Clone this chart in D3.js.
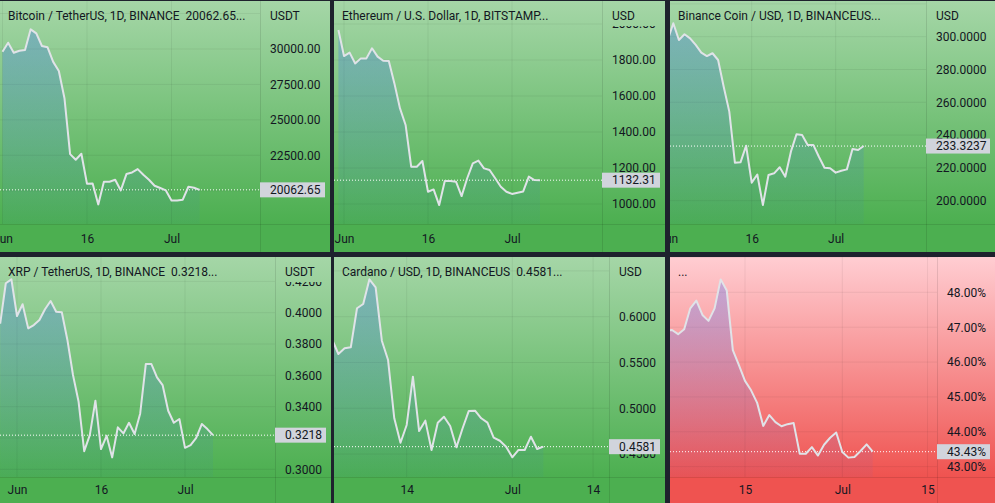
<!DOCTYPE html>
<html>
<head>
<meta charset="utf-8">
<script src="https://cdnjs.cloudflare.com/ajax/libs/d3/7.8.5/d3.min.js"></script>
<style>
  body { margin: 0; background: #1e222d; }
  svg { display: block; font-family: Roboto, "Noto Sans", sans-serif; }
</style>
</head>
<body>
<svg id="chart" width="995" height="503"></svg>
<script>
// daily closes (Jun - Jul 2022)
var btcStart = '2022-06-01'
var btcValues = [29810, 30444, 29740, 29880, 29930, 31387, 31106, 30211, 30117, 29091,
  28451, 26528, 22585, 22183, 22606, 20493, 20515, 19036, 20634, 20634,
  20775, 20021, 21176, 21289, 21527, 21127, 20775, 20352, 20190, 20021,
  19317, 19317, 19366, 20282, 20211, 20062.65]
var btcTicks = [20000, 22500, 25000, 27500, 30000, 32500]

var ethStart = '2022-05-31'
var ethValues = [1967, 1822, 1841, 1781, 1809, 1809, 1865, 1819, 1796, 1794, 1670,
  1531, 1439, 1207, 1207, 1239, 1068, 1081, 994, 1128, 1128,
  1124, 1044, 1143, 1226, 1241, 1198, 1189, 1143, 1096, 1068,
  1056, 1063, 1070, 1152, 1133, 1132.31]
var ethTicks = [1000, 1200, 1400, 1600, 1800, 2000]

var bnbStart = '2022-06-01'
var bnbValues = [298, 308.2, 298, 301.5, 299, 295, 290.3, 288.2, 289.9, 285.8,
  269.5, 254.3, 223.2, 223.4, 233.5, 211, 216, 197.4, 215.7, 216.7,
  220.4, 214.6, 229.9, 240.5, 240.1, 234, 234, 226.8, 220.1, 219.8,
  217.1, 218.3, 219.1, 231.5, 230.9, 233.3237]
var bnbTicks = [200, 220, 240, 260, 280, 300, 320]

var xrpStart = '2022-05-29'
var xrpValues = [0.393, 0.4188, 0.4213,
  0.3979, 0.4054, 0.3900, 0.3921, 0.3953, 0.4022, 0.4075, 0.4006, 0.4003, 0.3826,
  0.3602, 0.3431, 0.3116, 0.3218, 0.3438, 0.3129, 0.3214, 0.3076, 0.3268, 0.3229,
  0.3297, 0.3225, 0.3357, 0.3672, 0.3672, 0.3587, 0.3538, 0.3374, 0.3297, 0.3321,
  0.3137, 0.3155, 0.3201, 0.3289, 0.3257, 0.3218]
var xrpTicks = [0.30, 0.32, 0.34, 0.36, 0.38, 0.40, 0.42]

var adaStart = '2022-06-02'
var adaValues = [0.575, 0.5593, 0.5655, 0.5666, 0.6092, 0.6139, 0.6408, 0.6321, 0.5738,
  0.5527, 0.4891, 0.4624, 0.4818, 0.5345, 0.4752, 0.4865, 0.4545, 0.4843, 0.4908,
  0.4807, 0.4574, 0.4782, 0.4971, 0.4974, 0.4891, 0.4843, 0.4679, 0.4646, 0.4581,
  0.4465, 0.4545, 0.4545, 0.4690, 0.4556, 0.4581]
var adaTicks = [0.45, 0.50, 0.55, 0.60, 0.65]

var domStart = '2022-06-02'
var domValues = [46.9, 46.92, 46.80, 46.94, 47.54, 47.76, 47.35, 47.18, 47.54,
  48.37, 48.05, 46.34, 45.91, 45.46, 45.19, 44.83, 44.17, 44.48, 44.28,
  44.16, 44.22, 44.25, 43.37, 43.37, 43.56, 43.32, 43.63, 43.83, 43.98,
  43.42, 43.26, 43.28, 43.45, 43.64, 43.43]
var domTicks = [43, 44, 45, 46, 47, 48, 49]

var monthTicks = ['2022-06-01', '2022-06-16', '2022-07-01']
var adaDateTicks = ['2022-06-14', '2022-07-01', '2022-07-14']
var domDateTicks = ['2022-06-15', '2022-07-01', '2022-07-15']

var panels = [
  {title: 'Bitcoin / TetherUS, 1D, BINANCE  20062.65...', currency: 'USDT', start: btcStart, values: btcValues, ticks: btcTicks, dates: monthTicks, digits: 2, suffix: '', theme: 'green'},
  {title: 'Ethereum / U.S. Dollar, 1D, BITSTAMP...', currency: 'USD', start: ethStart, values: ethValues, ticks: ethTicks, dates: monthTicks, digits: 2, suffix: '', theme: 'green'},
  {title: 'Binance Coin / USD, 1D, BINANCEUS...', currency: 'USD', start: bnbStart, values: bnbValues, ticks: bnbTicks, dates: monthTicks, digits: 4, suffix: '', theme: 'green'},
  {title: 'XRP / TetherUS, 1D, BINANCE  0.3218...', currency: 'USDT', start: xrpStart, values: xrpValues, ticks: xrpTicks, dates: monthTicks, digits: 4, suffix: '', theme: 'green'},
  {title: 'Cardano / USD, 1D, BINANCEUS  0.4581...', currency: 'USD', start: adaStart, values: adaValues, ticks: adaTicks, dates: adaDateTicks, digits: 4, suffix: '', theme: 'green'},
  {title: '...', currency: '', start: domStart, values: domValues, ticks: domTicks, dates: domDateTicks, digits: 2, suffix: '%', theme: 'red'}
]

// where each pane sits, and two anchor points for each scale (pane coords)
var layout = [
  {left: 0, top: 1, width: 330, height: 251, scaleX: 260, axisY: 223, pad: 10, xA: ['2022-06-16', 87], xB: ['2022-07-01', 171.5], yA: [30000, 48], yB: [22500, 154.3]},
  {left: 334, top: 1, width: 331, height: 251, scaleX: 268, axisY: 223, pad: 10, xA: ['2022-06-16', 94], xB: ['2022-07-01', 178], yA: [1800, 59], yB: [1000, 203]},
  {left: 670, top: 1, width: 325, height: 251, scaleX: 256, axisY: 223, pad: 10, xA: ['2022-06-16', 81.7], xB: ['2022-07-01', 165.7], yA: [300, 35.7], yB: [200, 199.7]},
  {left: 0, top: 257, width: 331, height: 246, scaleX: 275, axisY: 220, pad: 8, xA: ['2022-06-16', 101], xB: ['2022-07-01', 185], yA: [0.40, 55.7], yB: [0.30, 212.3]},
  {left: 334, top: 257, width: 331, height: 246, scaleX: 275, axisY: 220, pad: 8, xA: ['2022-06-14', 72.7], xB: ['2022-07-01', 178.3], yA: [0.60, 59.7], yB: [0.50, 151.3]},
  {left: 670, top: 257, width: 325, height: 246, scaleX: 267, axisY: 220, pad: 8, xA: ['2022-06-15', 75], xB: ['2022-07-01', 172.3], yA: [48, 35.3], yB: [43, 209.7]}
]

var themes = {
  green: {top: '#a5d6a7', bottom: '#4caf50'},
  red: {top: '#ffcdd2', bottom: '#ef5350'}
}

var parseDay = d3.utcParse('%Y-%m-%d')
var svg = d3.select('#chart')
var defs = svg.append('defs')

panels.forEach(function (p, i) {
  var l = layout[i]
  var theme = themes[p.theme]
  var t0 = parseDay(p.start)
  var data = p.values.map(function (v, k) { return {date: d3.utcDay.offset(t0, k), value: v} })
  var last = data[data.length - 1]

  var x = d3.scaleUtc()
    .domain([parseDay(l.xA[0]), parseDay(l.xB[0])])
    .range([l.xA[1], l.xB[1]])
  var y = d3.scaleLinear()
    .domain([l.yA[0], l.yB[0]])
    .range([l.yA[1], l.yB[1]])

  var bgId = 'bg' + i
  var bg = defs.append('linearGradient').attr('id', bgId)
    .attr('x1', 0).attr('y1', 0).attr('x2', 0).attr('y2', 1)
  bg.append('stop').attr('offset', 0).attr('stop-color', theme.top)
  bg.append('stop').attr('offset', 1).attr('stop-color', theme.bottom)

  var areaId = 'area' + i
  var ag = defs.append('linearGradient').attr('id', areaId)
    .attr('gradientUnits', 'userSpaceOnUse')
    .attr('x1', 0).attr('x2', 0)
    .attr('y1', y(d3.max(data, function (d) { return d.value })))
    .attr('y2', l.axisY)
  ag.append('stop').attr('offset', 0).attr('stop-color', '#2962ff').attr('stop-opacity', 0.28)
  ag.append('stop').attr('offset', 1).attr('stop-color', '#2962ff').attr('stop-opacity', 0.04)

  defs.append('clipPath').attr('id', 'plot' + i)
    .append('rect').attr('width', l.scaleX).attr('height', l.axisY)
  defs.append('clipPath').attr('id', 'scale' + i)
    .append('rect').attr('x', l.scaleX).attr('y', 25)
    .attr('width', l.width - l.scaleX).attr('height', l.axisY - 25)
  defs.append('clipPath').attr('id', 'time' + i)
    .append('rect').attr('y', l.axisY).attr('width', l.scaleX).attr('height', l.height - l.axisY)

  var g = svg.append('g')
    .attr('transform', 'translate(' + l.left + ',' + l.top + ')')

  g.append('rect')
    .attr('width', l.width).attr('height', l.axisY)
    .attr('fill', 'url(#' + bgId + ')')
  g.append('rect')
    .attr('y', l.axisY).attr('width', l.width).attr('height', l.height - l.axisY)
    .attr('fill', theme.bottom)

  var plot = g.append('g').attr('clip-path', 'url(#plot' + i + ')')

  // grid
  plot.selectAll('.hgrid')
    .data(p.ticks)
    .enter().append('line')
    .attr('x1', 0).attr('x2', l.scaleX)
    .attr('y1', function (d) { return y(d) }).attr('y2', function (d) { return y(d) })
    .attr('stroke', '#000').attr('stroke-opacity', 0.06)
  plot.selectAll('.vgrid')
    .data(p.dates)
    .enter().append('line')
    .attr('x1', function (d) { return x(parseDay(d)) }).attr('x2', function (d) { return x(parseDay(d)) })
    .attr('y1', 0).attr('y2', l.axisY)
    .attr('stroke', '#000').attr('stroke-opacity', 0.06)

  var area = d3.area()
    .x(function (d) { return x(d.date) })
    .y0(l.axisY)
    .y1(function (d) { return y(d.value) })
  var line = d3.line()
    .x(function (d) { return x(d.date) })
    .y(function (d) { return y(d.value) })

  plot.append('path')
    .datum(data)
    .attr('d', area)
    .attr('fill', 'url(#' + areaId + ')')
  plot.append('line')
    .attr('x1', 0).attr('x2', l.scaleX)
    .attr('y1', y(last.value)).attr('y2', y(last.value))
    .attr('stroke', '#fff').attr('stroke-dasharray', '1,2')
  plot.append('path')
    .datum(data)
    .attr('d', line)
    .attr('fill', 'none')
    .attr('stroke', '#e0e3e8')
    .attr('stroke-width', 2)
    .attr('stroke-linejoin', 'round')

  // separators
  g.append('line')
    .attr('x1', l.scaleX + 0.5).attr('x2', l.scaleX + 0.5)
    .attr('y1', 0).attr('y2', l.height)
    .attr('stroke', '#000').attr('stroke-opacity', 0.1)
  g.append('line')
    .attr('x1', 0).attr('x2', l.width)
    .attr('y1', l.axisY + 0.5).attr('y2', l.axisY + 0.5)
    .attr('stroke', '#000').attr('stroke-opacity', 0.1)

  g.append('text')
    .attr('x', 8).attr('y', 15).attr('dy', '0.32em')
    .style('white-space', 'pre')
    .attr('font-size', 12).attr('fill', '#131722')
    .text(p.title)

  // price scale
  var fmt = function (d) { return d.toFixed(p.digits) + p.suffix }
  var yAxis = g.append('g')
    .attr('clip-path', 'url(#scale' + i + ')')
    .append('g')
    .attr('transform', 'translate(' + l.scaleX + ',0)')
    .call(d3.axisRight(y).tickValues(p.ticks).tickSize(0).tickPadding(10).tickFormat(fmt))
  yAxis.select('.domain').remove()
  yAxis.selectAll('text')
    .attr('font-family', null).attr('font-size', 12).attr('fill', '#131722')
  yAxis.attr('font-family', null).attr('font-size', null)

  g.append('text')
    .attr('x', l.scaleX + 10).attr('y', 15).attr('dy', '0.32em')
    .attr('font-size', 12).attr('fill', '#131722')
    .text(p.currency)

  g.append('rect')
    .attr('x', l.scaleX).attr('y', y(last.value) - 7.5)
    .attr('width', l.width - l.scaleX - 5).attr('height', 15)
    .attr('fill', '#d1d4dc')
  g.append('text')
    .attr('x', l.scaleX + 10).attr('y', y(last.value)).attr('dy', '0.32em')
    .attr('font-size', 12).attr('fill', '#131722')
    .text(fmt(last.value))

  // time scale
  var dayFmt = function (d) { return d.getUTCDate() === 1 ? d3.utcFormat('%b')(d) : d3.utcFormat('%-d')(d) }
  var xAxis = g.append('g')
    .attr('clip-path', 'url(#time' + i + ')')
    .append('g')
    .attr('transform', 'translate(0,' + l.axisY + ')')
    .call(d3.axisBottom(x).tickValues(p.dates.map(parseDay)).tickSize(0).tickPadding(l.pad).tickFormat(dayFmt))
  xAxis.select('.domain').remove()
  xAxis.attr('font-family', null).attr('font-size', null)
  xAxis.selectAll('text')
    .attr('font-size', 12).attr('fill', '#131722')
})
</script>
</body>
</html>
